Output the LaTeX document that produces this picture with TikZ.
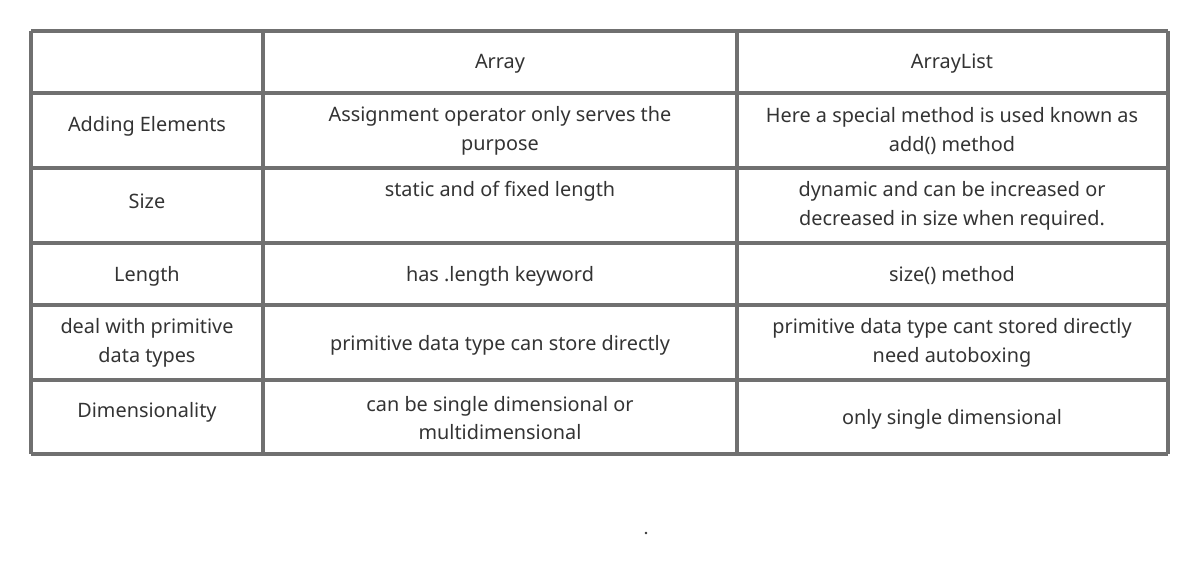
\documentclass[tikz,border=0pt]{standalone}
\usepackage{fontspec}
\setmainfont{Noto Sans}
\usetikzlibrary{positioning}
\definecolor{gridgray}{HTML}{707070}
\definecolor{textgray}{HTML}{333333}

\begin{document}
\begin{tikzpicture}[x=0.02cm, y=-0.02cm,
    celltext/.style={text=textgray, align=center, inner sep=0pt, font=\fontsize{11.3}{16.3}\selectfont},
    gridline/.style={draw=gridgray, line width=2.2pt}
]
\useasboundingbox (0,0) rectangle (1200,565);
% grid
\foreach \y in {31,93,168,243,305,380,454}
    \draw[gridline] (31,\y) -- (1168,\y);
\foreach \x in {31,263,737,1168}
    \draw[gridline] (\x,31) -- (\x,454);
% header
\node[celltext](head_arr) at (500,64){Array};
\node[celltext](head_list) at (952,64){ArrayList};
% rows
\node[celltext](add_lbl) at (147,126){Adding Elements};
\node[celltext](add_arr) at (500,131){Assignment operator only serves the\\purpose};
\node[celltext](add_list) at (952,131){Here a special method is used known as\\add() method};
\node[celltext](size_lbl) at (147,201){Size};
\node[celltext](size_arr) at (500,191){static and of fixed length};
\node[celltext](size_list) at (952,206){dynamic and can be increased or\\decreased in size when required.};
\node[celltext](len_lbl) at (147,276){Length};
\node[celltext](len_arr) at (500,276){has .length keyword};
\node[celltext](len_list) at (952,276){size() method};
\node[celltext](prim_lbl) at (147,343){deal with primitive\\data types};
\node[celltext](prim_arr) at (500,345){primitive data type can store directly};
\node[celltext](prim_list) at (952,343){primitive data type cant stored directly\\need autoboxing};
\node[celltext](dim_lbl) at (147,412){Dimensionality};
\node[celltext](dim_arr) at (500,418){can be single dimensional or\\multidimensional};
\node[celltext](dim_list) at (952,419){only single dimensional};
\fill[textgray] (646,533) circle (1.3);
\end{tikzpicture}
\end{document}
